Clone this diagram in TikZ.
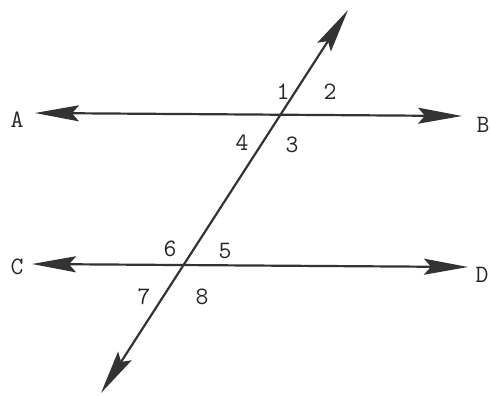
\documentclass[tikz,border=0pt]{standalone}
\usetikzlibrary{arrows.meta}
\definecolor{ink}{HTML}{333333}
\begin{document}
\begin{tikzpicture}[x=1pt,y=-1pt,
  ln/.style={draw=ink,line width=2.2pt,
    {Stealth[length=44pt,width=16pt,inset=7pt]}-{Stealth[length=44pt,width=16pt,inset=7pt]}},
  lbl/.style={text=black!85,font=\fontsize{25}{25}\selectfont\ttfamily,inner sep=0pt}]
\useasboundingbox (0,0) rectangle (490,396);
\coordinate (a) at (35,113);
\coordinate (b) at (462,116);
\coordinate (c) at (32,264);
\coordinate (d) at (468,267);
\coordinate (t) at (348,10);
\coordinate (u) at (101,393);
\draw[ln] (a) -- (b);
\draw[ln] (c) -- (d);
\draw[ln] (u) -- (t);
\node[lbl] (A) at (17,120) {A};
\node[lbl] (B) at (483,125) {B};
\node[lbl] (C) at (17,267) {C};
\node[lbl] (D) at (482,275) {D};
\node[lbl] (n1) at (283,92) {1};
\node[lbl] (n2) at (330,92) {2};
\node[lbl] (n3) at (292,145) {3};
\node[lbl] (n4) at (242,143) {4};
\node[lbl] (n5) at (225,251) {5};
\node[lbl] (n6) at (170,249) {6};
\node[lbl] (n7) at (144,297) {7};
\node[lbl] (n8) at (202,297) {8};
\end{tikzpicture}
\end{document}
